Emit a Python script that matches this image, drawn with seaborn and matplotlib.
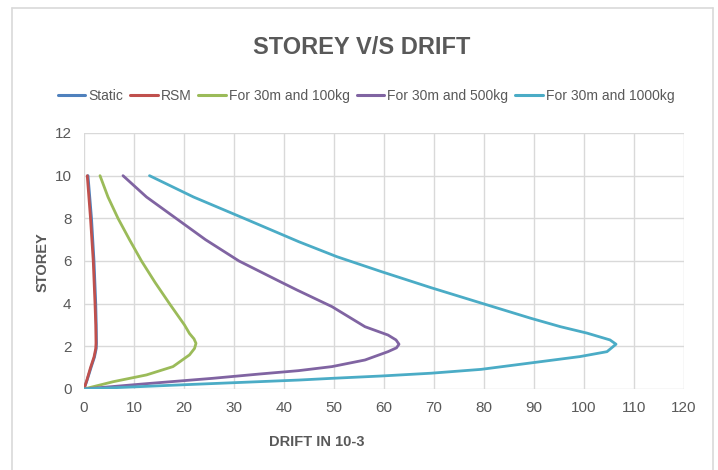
import matplotlib
matplotlib.use("Agg")
import matplotlib.pyplot as plt
from matplotlib import font_manager
from matplotlib.lines import Line2D
import seaborn as sns
import pandas as pd

# ---- data ----
series_names = ["Static", "RSM", "For 30m and 100kg", "For 30m and 500kg", "For 30m and 1000kg"]

static_drift = [0, 0.6, 1.4, 2.1, 2.45, 2.5, 2.45, 2.35, 2.0, 1.5, 0.8]
static_storey = [0, 0.4, 1, 1.5, 1.9, 2.15, 3, 4, 6, 8, 10]

rsm_drift = [0, 0.55, 1.3, 2.0, 2.35, 2.4, 2.35, 2.2, 1.85, 1.3, 0.65]
rsm_storey = [0, 0.4, 1, 1.5, 1.9, 2.15, 3, 4, 6, 8, 10]

d100_drift = [0, 5.8, 12.5, 17.8, 21.1, 22.1, 22.4, 22.0, 21.1, 20.1, 17.1, 14.2, 11.5,
              9.1, 6.8, 4.8, 3.2]
d100_storey = [0, 0.34, 0.66, 1.05, 1.6, 1.9, 2.14, 2.35, 2.6, 3, 4, 5, 6,
               7, 8, 9, 10]

d500_drift = [0, 12.5, 25.7, 35.0, 42.9, 49.6, 56.2, 60.8, 62.5, 63.0, 62.4, 60.8, 56.2,
              49.6, 42.6, 39.5, 31.0, 24.3, 18.4, 12.5, 7.8]
d500_storey = [0, 0.25, 0.5, 0.7, 0.86, 1.05, 1.36, 1.75, 1.93, 2.1, 2.3, 2.53, 2.92,
               3.86, 4.64, 5, 6, 7, 8, 9, 10]

d1000_drift = [0, 20.0, 43.0, 49.6, 59.5, 69.4, 79.4, 89.3, 99.2, 104.6, 106.4, 105.2,
               100.6, 95.3, 89.3, 79.4, 69.4, 59.5, 50.6, 43.0, 32.0, 21.9, 13.1]
d1000_storey = [0, 0.2, 0.42, 0.5, 0.61, 0.74, 0.92, 1.22, 1.52, 1.75, 2.1, 2.3,
                2.62, 2.92, 3.32, 4.03, 4.75, 5.5, 6.2, 6.9, 8, 9, 10]

x_ticks = list(range(0, 121, 10))
y_ticks = list(range(0, 13, 2))

colors = ["#4F81BD", "#C0504D", "#9BBB59", "#8064A2", "#4BACC6"]

frames = []
for name, xs, ys in zip(series_names,
                        [static_drift, rsm_drift, d100_drift, d500_drift, d1000_drift],
                        [static_storey, rsm_storey, d100_storey, d500_storey, d1000_storey]):
    frames.append(pd.DataFrame({"drift": xs, "storey": ys, "series": name}))
df = pd.concat(frames, ignore_index=True)

# ---- style ----
sns.set_theme(style="white")
avail = {f.name for f in font_manager.fontManager.ttflist}
fam = "DejaVu Sans"
for cand in ["Liberation Sans Narrow", "DejaVu Sans Condensed", "Liberation Sans"]:
    if cand in avail:
        fam = cand
        break
plt.rcParams["font.family"] = [fam, "DejaVu Sans"]

grey_txt = "#595959"
grid_c = "#D9D9D9"

fig = plt.figure(figsize=(7.18, 4.70), dpi=100)
ax = fig.add_axes([84/718, 1-389/470, 600/718, 256/470])

sns.lineplot(data=df, x="drift", y="storey", hue="series", hue_order=series_names,
             palette=colors, sort=False, estimator=None, linewidth=2.0, ax=ax,
             legend=False)
for ln in ax.get_lines():
    ln.set_solid_joinstyle("round")
    ln.set_solid_capstyle("round")

ax.set_xlim(0, 120)
ax.set_ylim(0, 12)
ax.set_xticks(x_ticks)
ax.set_yticks(y_ticks)
ax.set_xticklabels([str(v) for v in x_ticks], fontsize=11, color=grey_txt)
ax.set_yticklabels([str(v) for v in y_ticks], fontsize=11, color=grey_txt)
ax.tick_params(axis="x", length=0, pad=9)
ax.tick_params(axis="y", length=0, pad=9)
ax.grid(True, color=grid_c, linewidth=1.0)
ax.set_axisbelow(True)
for s in ax.spines.values():
    s.set_visible(False)
ax.set_xlabel("")
ax.set_ylabel("")

fig.text(317/718, 1-442/470, "DRIFT IN 10-3", ha="center", va="center",
         fontsize=10.5, fontweight="bold", color=grey_txt)
fig.text(43/718, 1-262/470, "STOREY", ha="center", va="center", rotation=90,
         fontsize=10.5, fontweight="bold", color=grey_txt)
fig.text(362/718, 1-47/470, "STOREY V/S DRIFT", ha="center", va="center",
         fontsize=17, fontweight="bold", color=grey_txt)

handles = [Line2D([0], [0], color=c, lw=2.2) for c in colors]
fig.legend(handles, series_names, loc="center", bbox_to_anchor=(366/718, 1-96/470),
           ncol=5, frameon=False, fontsize=10, handlelength=2.0, handletextpad=0.2,
           columnspacing=0.5, labelcolor=grey_txt)

# chart border
for xs, ys in [([12/718, 12/718], [0, 1-8/470]), ([12/718, 713/718], [1-8/470, 1-8/470]),
               ([713/718, 713/718], [1-8/470, 0])]:
    fig.add_artist(Line2D(xs, ys, color="#D9D9D9", lw=1.2, transform=fig.transFigure))

fig.savefig("out.png", dpi=100)
